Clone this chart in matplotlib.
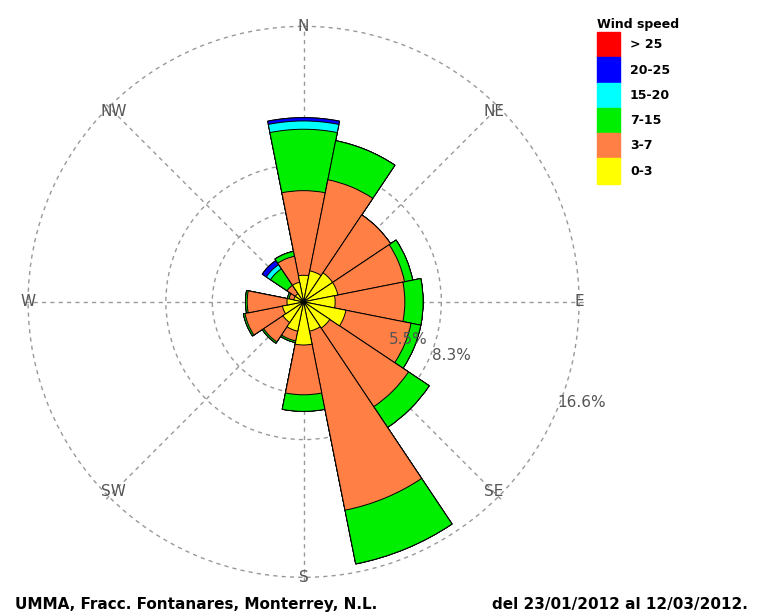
import numpy as np
import matplotlib.pyplot as plt
from matplotlib.patches import Rectangle

directions = ["N", "NNE", "NE", "ENE", "E", "ESE", "SE", "SSE",
              "S", "SSW", "SW", "WSW", "W", "WNW", "NW", "NNW"]
# cumulative frequency (%) at the top of each speed class
cum_0_3 = [1.6, 1.9, 2.1, 2.1, 1.9, 2.6, 1.9, 1.8, 2.6, 1.8, 1.5, 1.3, 1.0, 0.6, 0.6, 1.2]
cum_3_7 = [6.7, 7.5, 6.3, 6.2, 6.1, 6.6, 7.6, 12.8, 5.6, 2.4, 2.9, 3.6, 3.4, 0.9, 1.2, 2.8]
cum_7_15 = [10.4, 9.9, 6.3, 6.7, 7.2, 7.2, 9.1, 16.1, 6.6, 2.5, 3.0, 3.7, 3.5, 1.0, 2.4, 3.1]
cum_15_20 = [10.9, 9.9, 6.3, 6.7, 7.2, 7.2, 9.1, 16.1, 6.6, 2.5, 3.0, 3.7, 3.5, 1.0, 2.7, 3.1]
cum_20_25 = [11.1, 9.9, 6.3, 6.7, 7.2, 7.2, 9.1, 16.1, 6.6, 2.5, 3.0, 3.7, 3.5, 1.0, 3.0, 3.1]
cum_gt25 = cum_20_25

speed_labels = ["> 25", "20-25", "15-20", "7-15", "3-7", "0-3"]
speed_colors = ["#ff0000", "#0000ff", "#00ffff", "#00ee00", "#ff7f45", "#ffff00"]
ring_values = [5.5, 8.3, 16.6]

fig = plt.figure(figsize=(7.59, 6.16), dpi=100)
ax = fig.add_axes([0.028, 0.052, 0.744, 0.916], projection="polar")
ax.set_theta_zero_location("N")
ax.set_theta_direction(-1)

theta = np.deg2rad(np.arange(16) * 22.5)
width = np.deg2rad(22.5)
layers = [cum_0_3, cum_3_7, cum_7_15, cum_15_20, cum_20_25, cum_gt25]
colors = speed_colors[::-1]
# draw outermost first so inner classes cover it
for vals, col in reversed(list(zip(layers, colors))):
    ax.bar(theta, vals, width=width, color=col, edgecolor="black", linewidth=0.7, zorder=3)

ax.set_ylim(0, 17.0)
ax.set_yticks(ring_values)
ax.set_yticklabels([])
ax.set_xticks(np.deg2rad(np.arange(8) * 45))
ax.set_xticklabels([])
ax.grid(True, color="#999999", linestyle=(0, (3, 3)), linewidth=1)
ax.spines["polar"].set_visible(False)

for i, lab in enumerate(["N", "NE", "E", "SE", "S", "SW", "W", "NW"]):
    a = np.deg2rad(i * 45)
    ax.text(a, 16.6 if lab in ("N", "S", "E", "W") else 16.2, lab, ha="center", va="center",
            fontsize=11, color="#555555", zorder=5, clip_on=False)

for r, lab in zip(ring_values, ["5.5%", "8.3%", "16.6%"]):
    ax.text(np.deg2rad(110), r + 1.2, lab, ha="center", va="center", fontsize=11,
            color="#555555", zorder=5, clip_on=False)

fig.text(0.787, 0.955, "Wind speed", fontsize=9, fontweight="bold")
for i, (lab, col) in enumerate(zip(speed_labels, speed_colors)):
    y = 0.927 - i * 0.041
    fig.patches.append(Rectangle((0.787, y - 0.02), 0.03, 0.041, color=col,
                                 transform=fig.transFigure))
    fig.text(0.83, y, lab, fontsize=9, fontweight="bold", va="center")

fig.text(0.02, 0.012, "UMMA, Fracc. Fontanares, Monterrey, N.L.", fontsize=11, fontweight="bold")
fig.text(0.985, 0.012, "del 23/01/2012 al 12/03/2012.", fontsize=11, fontweight="bold", ha="right")

fig.savefig("out.png", dpi=100)
